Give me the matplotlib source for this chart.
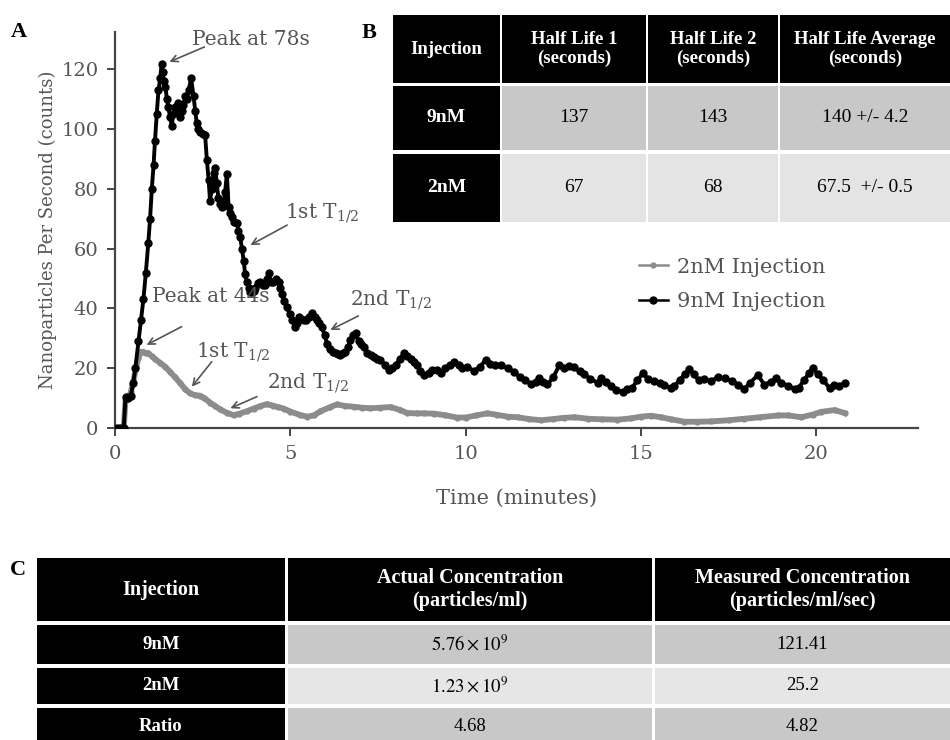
import matplotlib
matplotlib.use("Agg")
import matplotlib.pyplot as plt
from matplotlib.patches import Rectangle

# ---------------- data ----------------
t_9nM = [0.05, 0.15, 0.25, 0.30, 0.38, 0.45, 0.52, 0.58, 0.67, 0.74, 0.81, 0.88, 0.95, 1.00,
         1.05, 1.10, 1.14, 1.19, 1.24, 1.29, 1.33, 1.36, 1.40, 1.44, 1.48, 1.52, 1.57, 1.62,
         1.66, 1.71, 1.76, 1.81, 1.86, 1.90, 1.95, 2.00, 2.05, 2.10, 2.17, 2.24, 2.29, 2.33,
         2.38, 2.43, 2.50, 2.57, 2.62, 2.67, 2.71, 2.76, 2.81, 2.86, 2.90, 2.95, 3.00, 3.05,
         3.10, 3.14, 3.19, 3.24, 3.29, 3.33, 3.40, 3.48, 3.52, 3.57, 3.62, 3.67, 3.71, 3.76,
         3.81, 3.86, 3.90, 3.95, 4.00, 4.07, 4.14, 4.21, 4.29, 4.33, 4.38, 4.45, 4.52, 4.60,
         4.67, 4.71, 4.76, 4.83, 4.90, 4.98, 5.05, 5.14, 5.19, 5.24, 5.30, 5.38, 5.45, 5.52,
         5.62, 5.69, 5.76, 5.83, 5.90, 5.98, 6.05, 6.14, 6.22, 6.29, 6.36, 6.43, 6.50, 6.57,
         6.64, 6.71, 6.80, 6.86, 6.95, 7.02, 7.09, 7.20, 7.30, 7.38, 7.48, 7.57, 7.70, 7.81,
         7.90, 8.00, 8.12, 8.24, 8.33, 8.43, 8.52, 8.62, 8.71, 8.81, 8.95, 9.05, 9.19, 9.29,
         9.40, 9.55, 9.67, 9.80, 9.90, 10.05, 10.24, 10.40, 10.57, 10.70, 10.85, 11.00, 11.20,
         11.38, 11.55, 11.70, 11.86, 12.00, 12.10, 12.20, 12.33, 12.50, 12.67, 12.80, 12.95,
         13.10, 13.25, 13.38, 13.55, 13.76, 13.86, 14.00, 14.15, 14.29, 14.48, 14.60, 14.75,
         14.90, 15.05, 15.20, 15.38, 15.55, 15.67, 15.86, 15.95, 16.10, 16.25, 16.38, 16.50,
         16.65, 16.81, 17.00, 17.20, 17.40, 17.60, 17.78, 17.95, 18.10, 18.33, 18.52, 18.70,
         18.86, 19.00, 19.20, 19.38, 19.50, 19.65, 19.80, 19.90, 20.05, 20.20, 20.38, 20.50,
         20.65, 20.81]
v_9nM = [0, 0, 0, 10.5, 10, 10.8, 15, 20, 29, 36, 43, 52, 62, 70,
         80, 88, 96, 105, 113, 117, 121.7, 119, 116, 114, 110, 107.5, 104, 101,
         105, 107.5, 106, 108.6, 104, 106, 108, 111, 110, 113, 117, 111, 106, 102,
         100, 99, 98.5, 98, 89.6, 83, 76, 80, 85.2, 87, 82, 77, 75, 74,
         76, 79, 85, 74, 72, 70.7, 69, 68.5, 66, 64, 60, 56, 51.5, 49,
         47, 45.5, 45.5, 46, 47, 48.5, 49, 48, 48, 50, 51.7, 49, 49, 50,
         49, 47, 45, 42.5, 40.6, 38, 36, 33.7, 35, 37, 36.5, 36, 36, 37,
         38.4, 37, 36, 35, 33.7, 31, 28, 26.6, 25.5, 25, 24.6, 24.4, 25, 25.5,
         27, 29.4, 31, 31.7, 29, 28, 27, 25, 24.5, 23.8, 23, 22.7, 21, 19.4,
         20, 21, 23, 25, 24, 23, 22, 21, 19, 17.7, 18.5, 19.4, 19.4, 18.3,
         20, 21, 22.2, 21, 20, 20.5, 19, 20.5, 22.7, 21.5, 21, 21, 20,
         18.8, 17, 16, 14.8, 15.5, 16.6, 15.5, 14.6, 17, 21, 20, 20.8,
         20.4, 19, 18, 16.5, 15.2, 16.6, 15.5, 14, 12.7, 12, 13, 13.5,
         16, 18.3, 16.5, 15.6, 15, 14.4, 13.3, 14, 16, 18, 19.6, 18,
         16, 16.3, 15.8, 17, 16.6, 15.6, 14.5, 13, 15, 17.7, 14.5, 15.5,
         16.6, 15, 14.2, 13, 13.5, 16, 18.5, 20, 18, 16, 13.3, 14.5,
         14, 15]

t_2nM = [0.05, 0.25, 0.30, 0.38, 0.45, 0.52, 0.60, 0.67, 0.73, 0.80, 0.88, 0.95, 1.05, 1.15,
         1.29, 1.43, 1.57, 1.71, 1.86, 2.00, 2.14, 2.28, 2.43, 2.55, 2.71, 2.85, 3.00, 3.19,
         3.38, 3.55, 3.76, 3.95, 4.14, 4.33, 4.50, 4.65, 4.81, 5.00, 5.29, 5.48, 5.67, 5.86,
         6.14, 6.33, 6.55, 6.81, 7.05, 7.28, 7.57, 7.86, 8.14, 8.33, 8.60, 8.81, 9.10, 9.40,
         9.76, 10.00, 10.30, 10.62, 10.90, 11.20, 11.48, 11.80, 12.14, 12.50, 12.80, 13.10,
         13.50, 13.90, 14.33, 14.71, 15.00, 15.29, 15.57, 15.86, 16.24, 16.60, 17.00, 17.50,
         17.95, 18.40, 18.90, 19.20, 19.57, 19.90, 20.14, 20.52, 20.81]
v_2nM = [0, 0, 9.5, 10, 12, 15.5, 20, 23.5, 25.5, 25.5, 25, 25, 24, 23,
         21.8, 20.5, 18.8, 17, 15, 13, 11.6, 11, 10.8, 10, 8.5, 7.4, 6.2, 5.1,
         4.3, 4.8, 5.6, 6.5, 7.3, 8, 7.5, 7, 6.5, 5.5, 4.3, 3.8, 4.2, 5.6,
         7, 7.9, 7.4, 7.1, 6.8, 6.6, 6.8, 7, 6, 5, 4.9, 4.9, 4.8, 4.3,
         3.5, 3.5, 4.2, 4.9, 4.4, 3.8, 3.6, 3.0, 2.6, 3.0, 3.4, 3.6,
         3.1, 2.9, 2.8, 3.2, 3.8, 4.1, 3.6, 2.9, 2.1, 2.1, 2.2, 2.6,
         3.1, 3.6, 4.2, 4.2, 3.6, 4.5, 5.4, 6, 5]

series_labels = ["2nM Injection", "9nM Injection"]
x_ticks = [0, 5, 10, 15, 20]
y_ticks = [0, 20, 40, 60, 80, 100, 120]

annot_text = ["Peak at 78s", "1st T$_{1/2}$", "2nd T$_{1/2}$",
              "Peak at 44s", "1st T$_{1/2}$", "2nd T$_{1/2}$"]

# table B
tabB_header = ["Injection", "Half Life 1\n(seconds)", "Half Life 2\n(seconds)",
               "Half Life Average\n(seconds)"]
tabB_rows = ["9nM", "2nM"]
tabB_hl1 = ["137", "67"]
tabB_hl2 = ["143", "68"]
tabB_avg = ["140 +/- 4.2", "67.5  +/- 0.5"]

# table C
tabC_header = ["Injection", "Actual Concentration\n(particles/ml)",
               "Measured Concentration\n(particles/ml/sec)"]
tabC_rows = ["9nM", "2nM", "Ratio"]
tabC_actual = [r"$5.76 \times 10^{9}$", r"$1.23 \times 10^{9}$", "4.68"]
tabC_measured = ["121.41", "25.2", "4.82"]

# ---------------- figure ----------------
W, H = 950, 740
fig = plt.figure(figsize=(W / 100, H / 100), dpi=100)
plt.rcParams['mathtext.fontset'] = 'dejavuserif'

GREY_TXT = '#555555'
AX_COL = '#444444'

def fx(px):
    return px / W

def fy(py):
    return 1 - py / H

ax = fig.add_axes([fx(115), fy(428), fx(918) - fx(115), fy(32) - fy(428)])
ax.plot(t_2nM, v_2nM, color='#8c8c8c', lw=4.2, marker='o', ms=3.5, zorder=2,
        label=series_labels[0])
ax.plot(t_9nM, v_9nM, color='black', lw=2.8, marker='o', ms=5, zorder=3,
        label=series_labels[1])
ax.set_xlim(0, 22.9)
ax.set_ylim(0, 132.5)
ax.set_xticks(x_ticks)
ax.set_yticks(y_ticks)
for s in ['top', 'right']:
    ax.spines[s].set_visible(False)
for s in ['left', 'bottom']:
    ax.spines[s].set_color(AX_COL)
    ax.spines[s].set_linewidth(1.6)
ax.tick_params(axis='both', direction='out', length=6, width=1.4, color=AX_COL,
               labelcolor=GREY_TXT, labelsize=14, pad=6)
for lab in ax.get_xticklabels() + ax.get_yticklabels():
    lab.set_family('DejaVu Serif')
ax.set_xlabel("Time (minutes)", family='DejaVu Serif', fontsize=15, color=GREY_TXT,
              labelpad=19)
ax.set_ylabel("Nanoparticles Per Second (counts)", family='DejaVu Serif', fontsize=13,
              color=GREY_TXT, labelpad=3)

annot_xy_text = [(2.2, 128), (4.86, 70.3), (6.71, 41.2), (1.05, 42.3), (2.31, 23.8),
                 (4.34, 13.4)]
annot_xy_tip = [(1.55, 122.5), (3.86, 61.2), (6.14, 32.8), (0.9, 27.8), (2.19, 13.8),
                (3.29, 6.6)]
annot_tail = [(2.55, 127.5), (4.91, 67.9), (6.94, 37.5), (1.9, 33.9), (2.76, 22.2),
              (4.05, 10.5)]
for txt, pt, tip, tail in zip(annot_text, annot_xy_text, annot_xy_tip, annot_tail):
    ax.text(pt[0], pt[1], txt, family='DejaVu Serif', fontsize=14.5, color=GREY_TXT,
            ha='left', va='baseline')
    ax.annotate("", xy=tip, xytext=tail,
                arrowprops=dict(arrowstyle='->', color=GREY_TXT, lw=1.2,
                                shrinkA=0, shrinkB=0, mutation_scale=12))

leg = ax.legend(loc='upper left', bbox_to_anchor=(fx(620), fy(239)),
                bbox_transform=fig.transFigure, frameon=False,
                prop={'family': 'DejaVu Serif', 'size': 15}, handlelength=1.4,
                handletextpad=0.45, labelspacing=0.75)
for t in leg.get_texts():
    t.set_color(GREY_TXT)
for ln in leg.get_lines():
    ln.set_linewidth(1.8)

# ---------------- overlay for tables ----------------
lay = fig.add_axes([0, 0, 1, 1], zorder=5)
lay.set_xlim(0, W)
lay.set_ylim(H, 0)
lay.axis('off')
lay.patch.set_alpha(0)

def cell(x0, x1, y0, y1, fc, text, color, bold, size, math_serif=False):
    lay.add_patch(Rectangle((x0, y0), x1 - x0, y1 - y0, facecolor=fc, edgecolor='none'))
    kw = dict(ha='center', va='center', color=color, fontsize=size,
              family='Liberation Serif', fontweight='bold' if bold else 'normal',
              linespacing=1.2)
    if math_serif:
        kw['math_fontfamily'] = 'stix'
    lay.text((x0 + x1) / 2, (y0 + y1) / 2, text, **kw)

# table B
bx = [(393, 500), (502, 646), (648, 778), (780, 950)]
by = [(15, 83), (86, 150), (154, 222)]
for j, h in enumerate(tabB_header):
    cell(bx[j][0], bx[j][1], by[0][0], by[0][1], 'black', h, 'white', True, 13.5)
body_fc_B = ['#c8c8c8', '#e4e4e4']
for i in range(len(tabB_rows)):
    y0, y1 = by[i + 1]
    cell(bx[0][0], bx[0][1], y0, y1, 'black', tabB_rows[i], 'white', True, 14)
    vals = [tabB_hl1[i], tabB_hl2[i], tabB_avg[i]]
    for j, v in enumerate(vals):
        cell(bx[j + 1][0], bx[j + 1][1], y0, y1, body_fc_B[i], v, 'black', False, 14)

# table C
cx = [(37, 285), (288, 652), (655, 950)]
cy = [(558, 621), (625, 664), (668, 704), (708, 745)]
for j, h in enumerate(tabC_header):
    cell(cx[j][0], cx[j][1], cy[0][0], cy[0][1], 'black', h, 'white', True, 14.5)
body_fc_C = ['#c8c8c8', '#e6e6e6', '#c8c8c8']
for i in range(len(tabC_rows)):
    y0, y1 = cy[i + 1]
    cell(cx[0][0], cx[0][1], y0, y1, 'black', tabC_rows[i], 'white', True, 13.5)
    cell(cx[1][0], cx[1][1], y0, y1, body_fc_C[i], tabC_actual[i], 'black', False, 13.5,
         math_serif=True)
    cell(cx[2][0], cx[2][1], y0, y1, body_fc_C[i], tabC_measured[i], 'black', False, 13.5)

# panel letters
for letter, (px, py) in zip(["A", "B", "C"], [(11, 37), (362, 38), (10, 575)]):
    lay.text(px, py, letter, family='Liberation Serif', fontweight='bold', fontsize=16,
             color='black', ha='left', va='baseline')

fig.savefig("out.png", dpi=100)
